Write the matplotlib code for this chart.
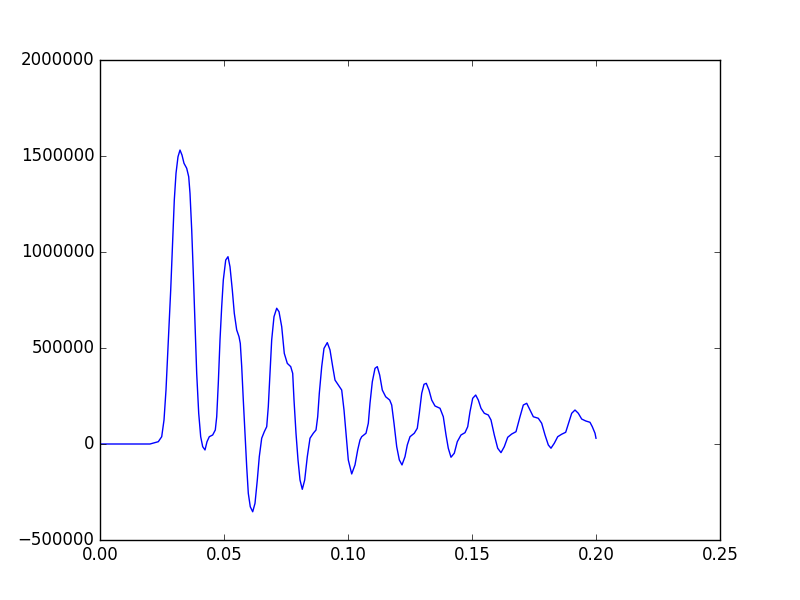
import matplotlib
matplotlib.use("Agg")
import matplotlib.pyplot as plt

plt.style.use("classic")

t = [0.0, 0.02016, 0.02351, 0.02488, 0.02581, 0.02661, 0.02754, 0.02851, 0.02931, 0.02996,
     0.03065, 0.03145, 0.03226, 0.03306, 0.03387, 0.03496, 0.03577, 0.03629, 0.03698, 0.03762,
     0.03831, 0.03899, 0.03980, 0.04060, 0.04141, 0.04234, 0.04315, 0.04407, 0.04544, 0.04649,
     0.04706, 0.04770, 0.04839, 0.04907, 0.04972, 0.05069, 0.05161, 0.05242, 0.05335, 0.05415,
     0.05512, 0.05605, 0.05657, 0.05714, 0.05778, 0.05847, 0.05915, 0.05980, 0.06060, 0.06157,
     0.06250, 0.06343, 0.06423, 0.06520, 0.06625, 0.06722, 0.06786, 0.06855, 0.06923, 0.07016,
     0.07125, 0.07218, 0.07327, 0.07431, 0.07552, 0.07690, 0.07770, 0.07823, 0.07903, 0.07984,
     0.08065, 0.08157, 0.08254, 0.08359, 0.08468, 0.08601, 0.08710, 0.08778, 0.08843, 0.08940,
     0.09032, 0.09165, 0.09274, 0.09383, 0.09476, 0.09609, 0.09746, 0.09839, 0.09919, 0.10012,
     0.10149, 0.10282, 0.10391, 0.10484, 0.10552, 0.10726, 0.10819, 0.10887, 0.10980, 0.11089,
     0.11181, 0.11278, 0.11383, 0.11520, 0.11681, 0.11762, 0.11855, 0.11964, 0.12069, 0.12177,
     0.12298, 0.12391, 0.12500, 0.12673, 0.12794, 0.12875, 0.12972, 0.13065, 0.13157, 0.13266,
     0.13375, 0.13508, 0.13710, 0.13843, 0.13952, 0.14044, 0.14153, 0.14286, 0.14407, 0.14556,
     0.14718, 0.14827, 0.14919, 0.15028, 0.15149, 0.15254, 0.15363, 0.15496, 0.15657, 0.15766,
     0.15899, 0.16036, 0.16169, 0.16302, 0.16440, 0.16601, 0.16774, 0.16935, 0.17069, 0.17206,
     0.17339, 0.17472, 0.17673, 0.17810, 0.17944, 0.18077, 0.18185, 0.18319, 0.18456, 0.18617,
     0.18778, 0.18911, 0.19020, 0.19153, 0.19286, 0.19423, 0.19585, 0.19758, 0.19851, 0.19960,
     0.2]

v = [0, 0, 12000, 38000, 125000, 281000, 542000, 802000, 1062500, 1271000,
     1410000, 1496000, 1531000, 1505000, 1462000, 1436000, 1392000, 1306000, 1115000, 889000,
     629000, 368000, 160000, 38000, -14000, -31000, 12000, 38000, 47000, 73000,
     142000, 316000, 542000, 715000, 854000, 958000, 975500, 923000, 802000, 681000,
     594000, 559000, 524000, 403000, 229000, 56000, -118000, -257000, -327000, -353000,
     -309000, -187500, -66000, 30000, 64000, 90000, 194000, 368000, 542000, 663000,
     707000, 689000, 611000, 472000, 420000, 403000, 368000, 229000, 56000, -83000,
     -187500, -236000, -187500, -66000, 30000, 56000, 73000, 142000, 264000, 403000,
     498000, 528000, 490000, 403000, 333000, 307000, 281000, 177000, 56000, -83000,
     -156000, -109000, -31000, 21000, 38000, 56000, 108000, 212000, 324000, 394000,
     403000, 359000, 281000, 246000, 229000, 203000, 108000, -14000, -83000, -109000,
     -66000, -5000, 38000, 56000, 82000, 160000, 264000, 311000, 316000, 281000,
     229000, 198000, 186000, 142000, 47000, -22000, -69000, -48000, 12000, 47000,
     59000, 90000, 168000, 238000, 255000, 229000, 186000, 160000, 151000, 125000,
     47000, -22000, -45000, -14000, 35000, 52000, 64000, 142000, 203000, 212000,
     177000, 142000, 134000, 108000, 47000, -5000, -22000, 4000, 38000, 51000,
     61000, 116000, 160000, 177000, 160000, 130000, 120000, 113000, 90000, 56000,
     30000]

fig = plt.figure(figsize=(8, 6), dpi=100, facecolor="white")
ax = fig.add_subplot(111)
ax.plot(t, v, color="b", linewidth=1.0)
ax.set_xlim(0, 0.25)
ax.set_ylim(-500000, 2000000)
fig.savefig("out.png", dpi=100, facecolor="white")
